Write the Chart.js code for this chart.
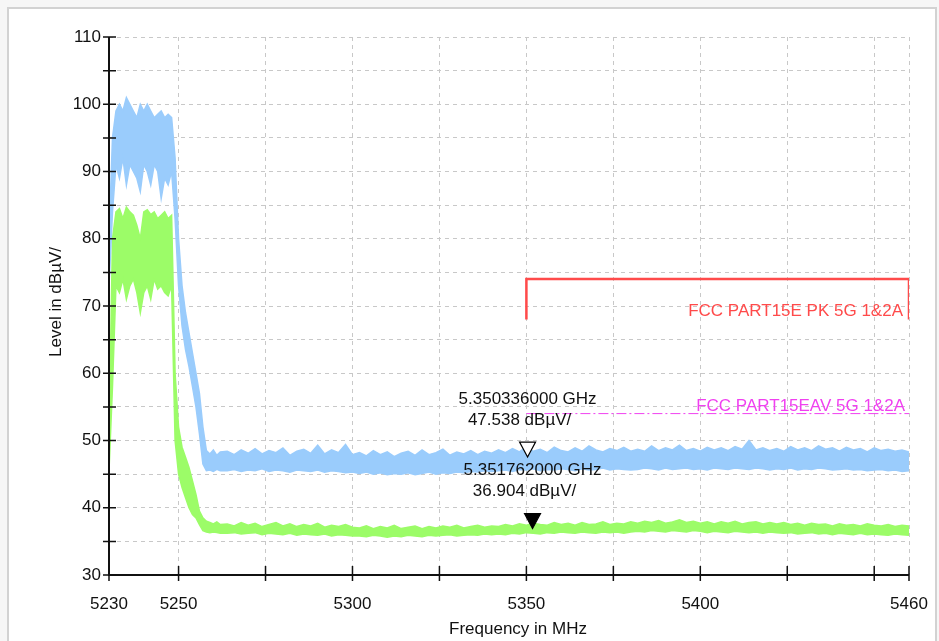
<!DOCTYPE html>
<html>
<head>
<meta charset="utf-8">
<script src="https://cdn.jsdelivr.net/npm/chart.js@4.4.1/dist/chart.umd.min.js"></script>
<style>
  html, body { margin: 0; padding: 0; background: #f6f6f6; }
  #frame { position: absolute; left: 7px; top: 7px; width: 926px; height: 632px;
           border: 2px solid #d2d2d2; background: #fff; }
  #chart { position: absolute; left: 0; top: 0; }
</style>
</head>
<body>
<div id="frame"></div>
<canvas id="chart" width="939" height="641"></canvas>
<script>
// frequency grid (MHz)
const freq = [
  5230,5231,5232,5233,5234,5235,5236,5237,5238,5239,5240,5241,5242,5243,5244,5245,5246,5247,5248,5249,
  5250,5251,5252,5253,5254,5255,5256,5257,5258,5259,5260,5261,5262,
  5264,5266,5268,5270,5272,5274,5276,5278,5280,5282,5284,5286,5288,5290,5292,5294,5296,5298,5300,
  5302,5304,5306,5308,5310,5312,5314,5316,5318,5320,5322,5324,5326,5328,5330,5332,5334,5336,5338,5340,
  5342,5344,5346,5348,5350,5352,5354,5356,5358,5360,5362,5364,5366,5368,5370,5372,5374,5376,5378,5380,
  5382,5384,5386,5388,5390,5392,5394,5396,5398,5400,5402,5404,5406,5408,5410,5412,5414,5416,5418,5420,
  5422,5424,5426,5428,5430,5432,5434,5436,5438,5440,5442,5444,5446,5448,5450,5452,5454,5456,5458,5460
];

// peak trace (blue) - upper / lower edge of the noise band, dBµV
const peakHi = [
  80,95,99,100,99,101,100,99,98,100,99,100,99,98,98.5,99,98,98.5,98,92,
  80,73,69,66,63,60,57,52,48.5,48,48.6,47.8,48.3,
  48.4,47.9,48.6,48.1,48.8,48.0,48.5,48.2,48.9,47.8,48.4,48.7,48.1,49.3,48.0,48.6,48.2,49.4,47.9,
  48.2,47.7,48.5,47.9,48.3,47.6,48.1,48.4,47.8,48.6,47.9,48.2,48.7,47.8,48.3,48.0,48.5,47.9,48.4,48.1,
  48.6,48.2,48.8,48.3,49.1,48.4,48.7,48.2,49.0,48.5,48.3,48.9,48.4,49.2,48.6,48.3,48.8,48.5,49.0,48.4,
  48.7,48.4,49.2,48.5,48.9,48.6,49.3,48.5,48.8,48.4,49.0,48.6,48.9,48.5,49.1,48.7,50.0,48.6,48.9,48.5,
  48.8,48.4,49.1,48.6,48.9,48.5,49.2,48.7,48.9,48.4,49.0,48.6,48.8,48.3,48.9,48.5,48.7,48.4,48.6,48.3
];
const peakLo = [
  73,84,91,89,92,88,91,90,89,87,91,90,88,91,90,86,89,88,90,83,
  73,67,63.5,61,58,55,51,46.5,45.5,45.6,45.4,45.7,45.5,
  45.5,45.7,45.4,45.6,45.5,45.8,45.4,45.6,45.5,45.3,45.6,45.5,45.4,45.6,45.3,45.5,45.4,45.2,45.3,
  45.1,45.3,45.0,45.2,44.9,45.1,45.0,45.2,44.9,45.1,45.3,45.0,45.2,45.1,45.3,45.2,45.4,45.3,45.5,45.4,
  45.5,45.6,45.4,45.7,45.6,45.8,45.5,45.7,45.6,45.8,45.7,45.5,45.8,45.6,45.7,45.9,45.6,45.8,45.7,45.6,
  45.7,45.9,45.8,45.6,45.9,45.7,45.8,45.9,45.7,45.8,45.6,45.9,45.8,45.7,45.9,45.8,45.7,45.9,45.8,45.6,
  45.8,45.7,45.9,45.6,45.8,45.7,45.9,45.8,45.6,45.7,45.8,45.6,45.7,45.5,45.6,45.7,45.5,45.6,45.4,45.5
];

// average trace (green)
const avgHi = [
  50,80,84,84.5,83,84.7,84,83.5,82,80,84,84.3,83.6,84,83,83.5,84,83,83.5,60,
  52,49,47.5,46,44,42,39.5,38.5,38,37.8,37.6,37.9,37.5,
  37.6,37.3,37.8,37.4,37.7,37.2,37.5,37.8,37.3,37.6,37.2,37.5,37.3,37.7,37.1,37.4,37.2,37.5,37.1,
  37.0,37.3,36.9,37.2,37.0,37.4,36.9,37.1,37.3,36.9,37.2,37.0,37.3,37.1,37.4,37.0,37.2,37.4,37.1,37.3,
  37.2,37.5,37.3,37.6,37.4,37.7,37.5,37.4,37.8,37.5,37.7,37.4,37.8,37.5,37.6,37.9,37.5,37.7,37.6,37.9,
  37.7,38.0,37.8,38.1,37.7,37.9,38.2,37.8,38.0,37.7,37.9,37.6,37.9,37.7,38.0,37.6,37.8,37.9,37.6,37.8,
  37.6,37.8,37.5,37.7,37.4,37.7,37.5,37.6,37.3,37.6,37.4,37.5,37.3,37.6,37.4,37.3,37.5,37.2,37.4,37.3
];
const avgLo = [
  45.5,58,73,72,74,71,73,74,72,69,72,73,71,74,72.5,73,72,71.5,73,50,
  45,43,41.5,40,39,38.5,37.5,36.6,36.4,36.3,36.4,36.3,36.2,
  36.2,36.3,36.1,36.2,36.3,36.0,36.2,36.1,36.0,36.2,35.9,36.1,36.0,35.9,36.1,35.8,36.0,35.9,35.8,
  35.8,35.7,35.9,35.8,35.6,35.8,35.7,35.9,35.8,35.7,35.9,35.8,35.9,36.0,35.8,35.9,36.0,35.9,36.1,36.0,
  36.1,36.0,36.2,36.1,36.3,36.2,36.1,36.3,36.2,36.4,36.3,36.2,36.4,36.3,36.2,36.4,36.3,36.4,36.2,36.4,
  36.5,36.4,36.6,36.5,36.4,36.6,36.5,36.4,36.6,36.5,36.3,36.5,36.4,36.3,36.5,36.4,36.3,36.4,36.2,36.4,
  36.3,36.2,36.3,36.1,36.2,36.3,36.1,36.2,36.0,36.2,36.1,36.0,36.2,36.0,36.1,36.0,35.9,36.1,36.0,35.9
];

// limit lines
const pkFreq = [5350, 5350, 5460, 5460];
const pkLevel = [68, 74, 74, 68];
const avFreq = [5350, 5460];
const avLevel = [54, 54];
const pkName = "FCC PART15E PK 5G 1&2A";
const avName = "FCC PART15EAV 5G 1&2A";

// markers
const markerFreq = [5350.336, 5351.762];
const markerLevel = [47.538, 36.904];
const markerFreqText = ["5.350336000 GHz", "5.351762000 GHz"];
const markerLevelText = ["47.538 dBµV/", "36.904 dBµV/"];

// axes
const xTicks = [5230, 5250, 5275, 5300, 5325, 5350, 5375, 5400, 5425, 5450, 5460];
const xLabels = [5230, 5250, 5300, 5350, 5400, 5460];

const FONT = "'Liberation Sans', Arial, sans-serif";
const BLUE = "#9accfc";
const GREEN = "#9cfc68";

function pts(xs, ys) {
  return xs.map((x, i) => ({ x: x, y: ys[i] }));
}

function band(data, color, fill) {
  return {
    data: data, borderColor: color, backgroundColor: color, borderWidth: 1.5,
    pointRadius: 0, fill: fill, tension: 0
  };
}

// axes, tick marks, titles, markers, limit names
const overlay = {
  id: "overlay",
  afterDraw(chart) {
    const ctx = chart.ctx;
    const xs = chart.scales.x, ys = chart.scales.y;
    const a = chart.chartArea;
    ctx.save();
    ctx.strokeStyle = "#111";
    ctx.lineWidth = 2;
    ctx.beginPath();
    ctx.moveTo(a.left, a.top);
    ctx.lineTo(a.left, a.bottom);
    ctx.lineTo(a.right, a.bottom);
    ctx.stroke();
    ctx.lineWidth = 1.5;
    ctx.beginPath();
    ys.ticks.forEach(t => {
      const y = ys.getPixelForValue(t.value);
      ctx.moveTo(a.left - 6, y);
      ctx.lineTo(a.left + 7, y);
    });
    xTicks.forEach(v => {
      const x = xs.getPixelForValue(v);
      ctx.moveTo(x, a.bottom - 9);
      ctx.lineTo(x, a.bottom + 6);
    });
    ctx.stroke();

    ctx.fillStyle = "#111";
    ctx.font = "17px " + FONT;
    ctx.textAlign = "center";
    ctx.textBaseline = "middle";
    ctx.fillText("Frequency in MHz", 518, 629);
    ctx.save();
    ctx.translate(56, 302);
    ctx.rotate(-Math.PI / 2);
    ctx.fillText("Level in dBµV/", 0, 0);
    ctx.restore();

    // limit names
    ctx.font = "17px " + FONT;
    ctx.textAlign = "right";
    ctx.fillStyle = "#ff4a4a";
    ctx.fillText(pkName, xs.getPixelForValue(pkFreq[3]) - 6, ys.getPixelForValue(pkLevel[1]) + 32);
    ctx.fillStyle = "#f040f0";
    ctx.fillText(avName, xs.getPixelForValue(avFreq[1]) - 4, ys.getPixelForValue(avLevel[1]) - 7);

    // markers
    markerFreq.forEach((f, i) => {
      const x = xs.getPixelForValue(f);
      const y = ys.getPixelForValue(markerLevel[i]);
      ctx.beginPath();
      ctx.moveTo(x, y);
      ctx.lineTo(x - 8, y - 15);
      ctx.lineTo(x + 8, y - 15);
      ctx.closePath();
      ctx.fillStyle = i === 0 ? "#fff" : "#000";
      ctx.fill();
      ctx.lineWidth = 1.2;
      ctx.strokeStyle = "#000";
      ctx.stroke();
      ctx.fillStyle = "#111";
      ctx.font = "17px " + FONT;
      ctx.textAlign = "center";
      ctx.fillText(markerFreqText[i], x, y - 58);
      ctx.fillText(markerLevelText[i], x - 8, y - 37);
    });
    ctx.restore();
  }
};

new Chart(document.getElementById("chart"), {
  type: "line",
  data: {
    datasets: [
      band(pts(freq, peakLo), BLUE, false),
      band(pts(freq, peakHi), BLUE, "-1"),
      band(pts(freq, avgLo), GREEN, false),
      band(pts(freq, avgHi), GREEN, "-1"),
      {
        data: pts(pkFreq, pkLevel), borderColor: "#ff4a4a", borderWidth: 2.5,
        pointRadius: 0, fill: false, tension: 0
      },
      {
        data: pts(avFreq, avLevel), borderColor: "#f040f0", borderWidth: 1,
        borderDash: [10, 3, 2, 3], pointRadius: 0, fill: false, tension: 0
      }
    ]
  },
  options: {
    responsive: false,
    animation: false,
    layout: { padding: { top: 37, right: 30, left: 0, bottom: 0 } },
    plugins: { legend: { display: false }, tooltip: { enabled: false } },
    scales: {
      x: {
        type: "linear", min: 5230, max: 5460,
        afterBuildTicks: s => { s.ticks = xTicks.map(v => ({ value: v })); },
        afterFit: s => { s.height = 66; s.paddingLeft = 0; s.paddingRight = 0; },
        grid: { color: "#c8c8c8", lineWidth: 1, drawTicks: false },
        border: { display: false, dash: [4, 4] },
        ticks: {
          autoSkip: false, maxRotation: 0, padding: 19, color: "#111",
          font: { family: FONT, size: 17 },
          callback: v => xLabels.includes(v) ? String(v) : ""
        }
      },
      y: {
        min: 30, max: 110,
        afterFit: s => { s.width = 109; s.paddingTop = 0; s.paddingBottom = 0; },
        grid: { color: "#c8c8c8", lineWidth: 1, drawTicks: false },
        border: { display: false, dash: [4, 4] },
        ticks: {
          stepSize: 5, padding: 8, color: "#111",
          font: { family: FONT, size: 17 },
          callback: v => v % 10 === 0 ? String(v) : ""
        }
      }
    }
  },
  plugins: [overlay]
});
</script>
</body>
</html>
